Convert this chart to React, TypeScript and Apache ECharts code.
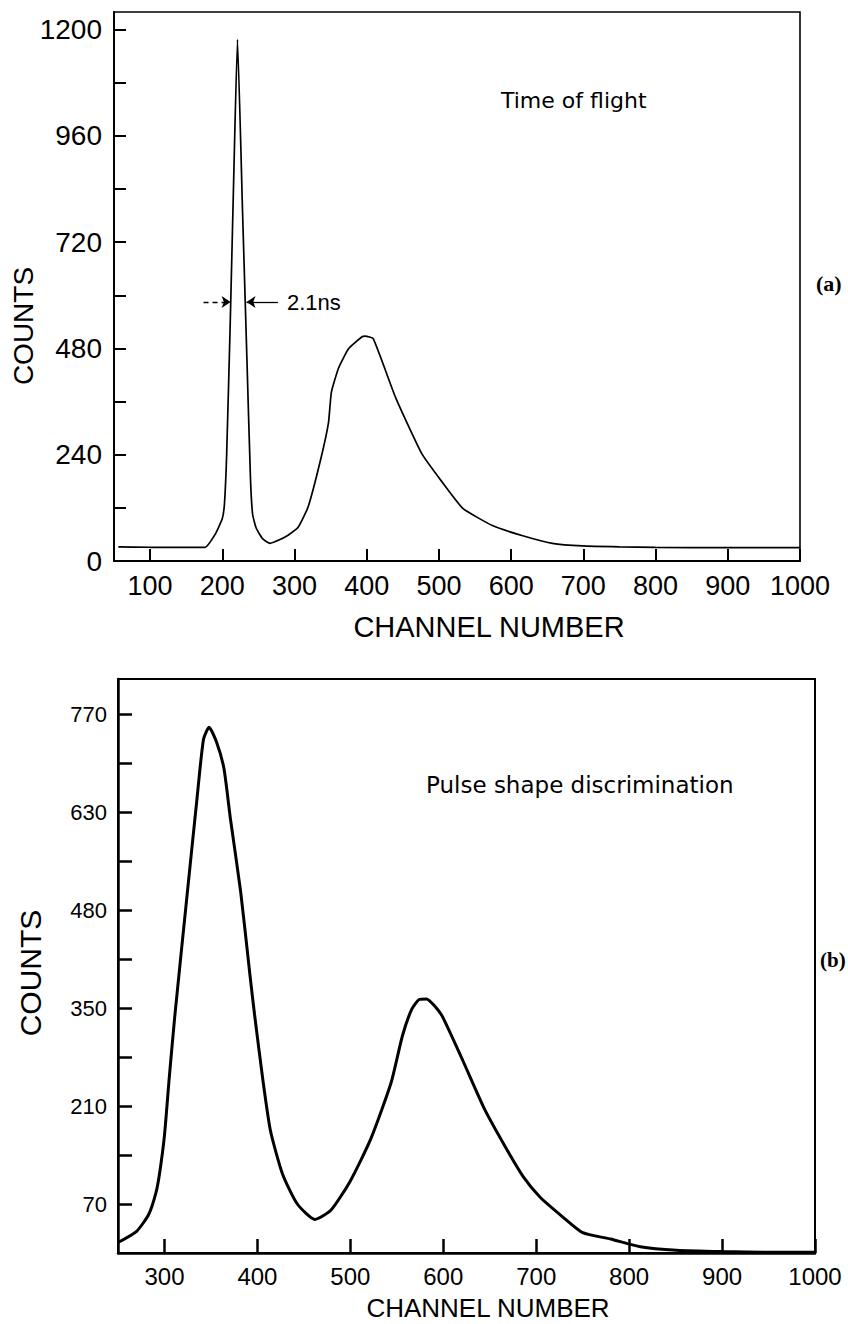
import React, { useEffect, useRef } from "react";
import * as echarts from "echarts";

// (a) Time of flight spectrum
const tofChannels = [56, 100, 150, 176, 190, 200, 203, 206, 211, 216, 221, 228, 234, 239, 242, 247, 256, 266, 282, 291, 305, 319, 336, 347, 351, 361, 375, 393, 398, 409, 440, 476, 505, 533, 574, 616, 657, 699, 750, 800, 900, 1000];
const tofCounts = [32, 31, 31, 31, 60, 96, 130, 240, 540, 880, 1178, 790, 460, 186, 105, 74, 50, 40, 50, 58, 76, 123, 228, 312, 381, 436, 480, 506, 508, 502, 369, 243, 177, 119, 80, 57, 40, 34, 32, 31, 30, 30];
const tofXTicks = [100, 200, 300, 400, 500, 600, 700, 800, 900, 1000];
const tofYTicks = [0, 120, 240, 360, 480, 600, 720, 840, 960, 1080, 1200];
const tofYLabels = [0, 240, 480, 720, 960, 1200];
// FWHM arrows (channel from, channel to, counts level)
const fwhmLeft = [174, 211.5, 585];
const fwhmRight = [277, 233.5, 585];

// (b) Pulse shape discrimination spectrum
const pssChannels = [250, 270, 283, 291, 295, 300, 305, 311, 324, 335, 342, 348, 356, 364, 371, 382, 392, 397, 406, 414, 427, 443, 462, 479, 500, 522, 544, 556, 566, 574, 582, 590, 599, 621, 645, 667, 686, 704, 729, 750, 780, 812, 851, 902, 950, 1000];
const pssCounts = [15, 31, 55, 87, 116, 168, 248, 337, 507, 649, 734, 751, 730, 692, 620, 516, 397, 340, 246, 175, 113, 70, 48, 61, 103, 163, 244, 310, 348, 362, 363, 354, 338, 275, 204, 151, 109, 80, 51, 29, 20, 9, 4, 2, 1, 1];
const pssXTicks = [300, 400, 500, 600, 700, 800, 900, 1000];
const pssYTicks = [70, 140, 210, 280, 350, 420, 490, 560, 630, 700, 770];
const pssYLabelValues = [70, 210, 350, 490, 630, 770];
const pssYLabelTexts = ["70", "210", "350", "480", "630", "770"];

const SANS = "Liberation Sans";

export default function App() {
  const ref = useRef<HTMLDivElement>(null);
  useEffect(() => {
    const chart = echarts.init(ref.current!, null, { renderer: "svg" });
    const axisLine = (w: number) => ({ show: true, onZero: false, lineStyle: { color: "#000", width: w } });
    const plain = (v: number) => String(v);
    chart.setOption({
      animation: false,
      backgroundColor: "#fff",
      grid: [
        { left: 114, right: 48, top: 12, bottom: 763, show: true, borderColor: "#000", borderWidth: 1.6, outerBoundsMode: "none" },
        { left: 118, right: 33, top: 679, bottom: 71, show: true, borderColor: "#000", borderWidth: 2, outerBoundsMode: "none" },
      ],
      xAxis: [
        {
          type: "value", gridIndex: 0, min: 50, max: 1000,
          axisLine: axisLine(2),
          axisTick: { show: true, inside: true, length: 12, lineStyle: { color: "#000", width: 2 }, customValues: tofXTicks },
          axisLabel: { color: "#000", fontFamily: SANS, fontSize: 27, margin: 11, customValues: tofXTicks, formatter: plain },
          splitLine: { show: false },
        },
        {
          type: "value", gridIndex: 1, min: 250, max: 1000,
          axisLine: axisLine(2.5),
          axisTick: { show: true, inside: true, length: 14, lineStyle: { color: "#000", width: 2.5 }, customValues: pssXTicks },
          axisLabel: { color: "#000", fontFamily: SANS, fontSize: 24, margin: 11, customValues: pssXTicks, formatter: plain },
          splitLine: { show: false },
        },
      ],
      yAxis: [
        {
          type: "value", gridIndex: 0, min: 0, max: 1240,
          axisLine: axisLine(2),
          axisTick: { show: true, inside: true, length: 12, lineStyle: { color: "#000", width: 2 }, customValues: tofYTicks },
          axisLabel: { color: "#000", fontFamily: SANS, fontSize: 28, margin: 12, customValues: tofYLabels, formatter: plain },
          splitLine: { show: false },
        },
        {
          type: "value", gridIndex: 1, min: 0, max: 820,
          axisLine: axisLine(2.5),
          axisTick: { show: true, inside: true, length: 14, lineStyle: { color: "#000", width: 2.5 }, customValues: pssYTicks },
          axisLabel: {
            color: "#000", fontFamily: SANS, fontSize: 22, margin: 11, customValues: pssYLabelValues,
            formatter: (v: number) => { const i = pssYLabelValues.indexOf(v); return i >= 0 ? pssYLabelTexts[i] : ""; },
          },
          splitLine: { show: false },
        },
      ],
      series: [
        {
          type: "line", xAxisIndex: 0, yAxisIndex: 0,
          data: tofChannels.map((c, i) => [c, tofCounts[i]]),
          showSymbol: false, symbol: "none", smooth: 0.15,
          lineStyle: { color: "#000", width: 1.7 },
          markLine: {
            silent: true, symbol: ["none", "arrow"], symbolSize: 9,
            label: { show: false },
            lineStyle: { color: "#000", width: 1.3, type: "solid" },
            data: [
              [{ coord: [fwhmLeft[0], fwhmLeft[2]], lineStyle: { type: [5, 4], color: "#000", width: 1.3 } }, { coord: [fwhmLeft[1], fwhmLeft[2]] }],
              [{ coord: [fwhmRight[0], fwhmRight[2]] }, { coord: [fwhmRight[1], fwhmRight[2]] }],
            ],
          },
        },
        {
          type: "line", xAxisIndex: 1, yAxisIndex: 1,
          data: pssChannels.map((c, i) => [c, pssCounts[i]]),
          showSymbol: false, symbol: "none", smooth: 0.2,
          lineStyle: { color: "#000", width: 3 },
        },
      ],
      graphic: [
        { type: "text", x: 489, y: 627, style: { text: "CHANNEL NUMBER", fill: "#000", font: `29px "${SANS}"`, align: "center", verticalAlign: "middle" } },
        { type: "text", x: 23, y: 326, rotation: Math.PI / 2, style: { text: "COUNTS", fill: "#000", font: `28px "${SANS}"`, align: "center", verticalAlign: "middle" } },
        { type: "text", x: 501, y: 100, style: { text: "Time of flight", fill: "#000", font: `22px "DejaVu Sans"`, align: "left", verticalAlign: "middle" } },
        { type: "text", x: 287, y: 302, style: { text: "2.1ns", fill: "#000", font: `22px "${SANS}"`, align: "left", verticalAlign: "middle" } },
        { type: "text", x: 816, y: 283, style: { text: "(a)", fill: "#000", font: `bold 22px "Liberation Serif"`, align: "left", verticalAlign: "middle" } },
        { type: "text", x: 488, y: 1308, style: { text: "CHANNEL NUMBER", fill: "#000", font: `26px "${SANS}"`, align: "center", verticalAlign: "middle" } },
        { type: "text", x: 30, y: 973, rotation: Math.PI / 2, style: { text: "COUNTS", fill: "#000", font: `30px "${SANS}"`, align: "center", verticalAlign: "middle" } },
        { type: "text", x: 426, y: 785, style: { text: "Pulse shape discrimination", fill: "#000", font: `23px "DejaVu Sans"`, align: "left", verticalAlign: "middle" } },
        { type: "text", x: 820, y: 960, style: { text: "(b)", fill: "#000", font: `bold 21px "Liberation Serif"`, align: "left", verticalAlign: "middle" } },
      ],
    });
    return () => chart.dispose();
  }, []);
  return <div ref={ref} style={{ position: "absolute", left: 0, top: 0, width: 848, height: 1324, background: "#fff" }} />;
}
